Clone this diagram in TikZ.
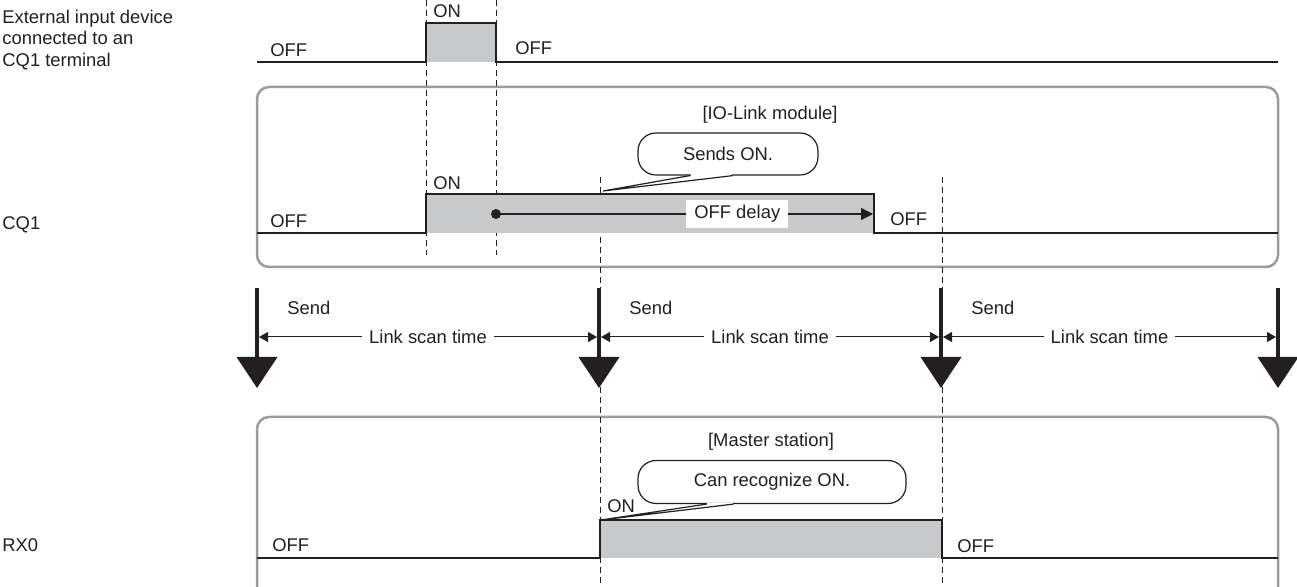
\documentclass[tikz,border=0pt]{standalone}
\usepackage{fontspec}
\setmainfont{Liberation Sans}
\usetikzlibrary{arrows.meta}
\definecolor{sig}{RGB}{35,31,32}
\definecolor{pulse}{RGB}{200,201,203}
\definecolor{rim}{RGB}{155,155,155}
\tikzset{
    lbl/.style={font=\fontsize{9.2}{10.75}\selectfont, text=sig, inner sep=1pt},
    sigline/.style={draw=sig, line width=0.6pt},
    panel/.style={draw=rim, line width=1.25pt, rounded corners=6pt},
    guide/.style={draw=sig, line width=0.5pt, dash pattern=on 3pt off 2pt},
    sendarrow/.style={draw=sig, line width=2pt, -{Triangle[width=20pt,length=15.5pt]}},
    scanarrow/.style={draw=sig, line width=0.5pt,
        {Triangle[width=5pt,length=4.5pt]}-{Triangle[width=5pt,length=4.5pt]}},
    callout/.style={lbl, draw=sig, fill=white, line width=0.6pt, rounded corners=9pt}
}

\begin{document}
\begin{tikzpicture}[x=0.5pt, y=-0.5pt]
    \clip (0,0) rectangle (1297,587);

    % Row labels
    \node[lbl, anchor=west, align=left] (extlbl) at (0,40) {External input device\\connected to an\\CQ1 terminal};
    \node[lbl, anchor=west] (cq1lbl) at (0,225) {CQ1};
    \node[lbl, anchor=west] (rx0lbl) at (0,545) {RX0};

    % Frames
    \draw[panel] (257,87) rectangle (1278,267);
    \draw[panel] (257,417) rectangle (1278,620);
    \node[lbl] (iolink) at (770,115) {[IO-Link module]};
    \node[lbl] (master) at (771,442) {[Master station]};

    % Timing guides
    \foreach \x/\a/\b in {426/0/255, 496/0/255, 600/177/587, 942/177/587}
        \draw[guide] (\x,\a) -- (\x,\b);

    % External input device
    \fill[pulse] (426,23) rectangle (496,62);
    \draw[sigline] (257,62) -- (426,62) -- (426,23) -- (496,23) -- (496,62) -- (1278,62);
    \node[lbl, anchor=west] (exton) at (431,11) {ON};
    \node[lbl, anchor=west] (extoffa) at (268,50) {OFF};
    \node[lbl, anchor=west] (extoffb) at (513,48) {OFF};

    % CQ1
    \fill[pulse] (426,194) rectangle (874,233);
    \draw[sigline] (257,233) -- (426,233) -- (426,194) -- (874,194) -- (874,233) -- (1278,233);
    \node[lbl, anchor=west] (cq1on) at (431,183) {ON};
    \node[lbl, anchor=west] (cq1offa) at (268,221) {OFF};
    \node[lbl, anchor=west] (cq1offb) at (888,219) {OFF};

    % OFF delay
    \coordinate (dly) at (496,214);
    \coordinate (dlyend) at (873,214);
    \fill[sig] (dly) circle[radius=2.5pt];
    \draw[sigline, -{Triangle[width=6pt,length=6pt]}] (dly) --
        node[lbl, pos=0.64, fill=white, inner xsep=4pt, inner ysep=2.5pt] (dlylbl) {OFF delay} (dlyend);

    % Sends ON.
    \node[callout, minimum width=90pt, minimum height=21pt] (sendson) at (728,154) {Sends ON.};
    \coordinate (sendstip) at (603,191);
    \fill[white] ([xshift=-18.7pt,yshift=0.7pt]sendson.south) rectangle ([xshift=2.2pt,yshift=-0.7pt]sendson.south);
    \draw[sigline] ([xshift=-19pt]sendson.south) -- (sendstip) -- ([xshift=2.5pt]sendson.south);

    % Send arrows and link scan time
    \foreach \n/\x in {1/257, 2/599, 3/941, 4/1278} {
        \coordinate (top\n) at (\x,288);
        \coordinate (tip\n) at (\x,388);
        \coordinate (dl\n) at (\x-2,337);
        \coordinate (dr\n) at (\x+2,337);
        \draw[sendarrow] (top\n) -- (tip\n);
    }
    \foreach \n/\x in {1/257, 2/599, 3/941}
        \node[lbl, anchor=west] (send\n) at (\x+28,308) {Send};
    \foreach \a/\b in {1/2, 2/3, 3/4}
        \draw[scanarrow] (dr\a) -- node[lbl, fill=white, inner xsep=3.5pt] (scan\a) {Link scan time} (dl\b);

    % RX0
    \fill[pulse] (600,520) rectangle (942,558);
    \draw[sigline] (257,558) -- (600,558) -- (600,520) -- (942,520) -- (942,558) -- (1278,558);
    \node[lbl, anchor=west] (rx0on) at (605,506) {ON};
    \node[lbl, anchor=west] (rx0offa) at (270,545) {OFF};
    \node[lbl, anchor=west] (rx0offb) at (955,546) {OFF};

    % Can recognize ON.
    \node[callout, minimum width=134pt, minimum height=21.5pt] (canrec) at (772,482) {Can recognize ON.};
    \coordinate (canrectip) at (601,520);
    \fill[white] ([xshift=-32.4pt,yshift=0.7pt]canrec.south) rectangle ([xshift=-19.6pt,yshift=-0.7pt]canrec.south);
    \draw[sigline] ([xshift=-32.7pt]canrec.south) -- (canrectip) -- ([xshift=-19.3pt]canrec.south);
\end{tikzpicture}
\end{document}
